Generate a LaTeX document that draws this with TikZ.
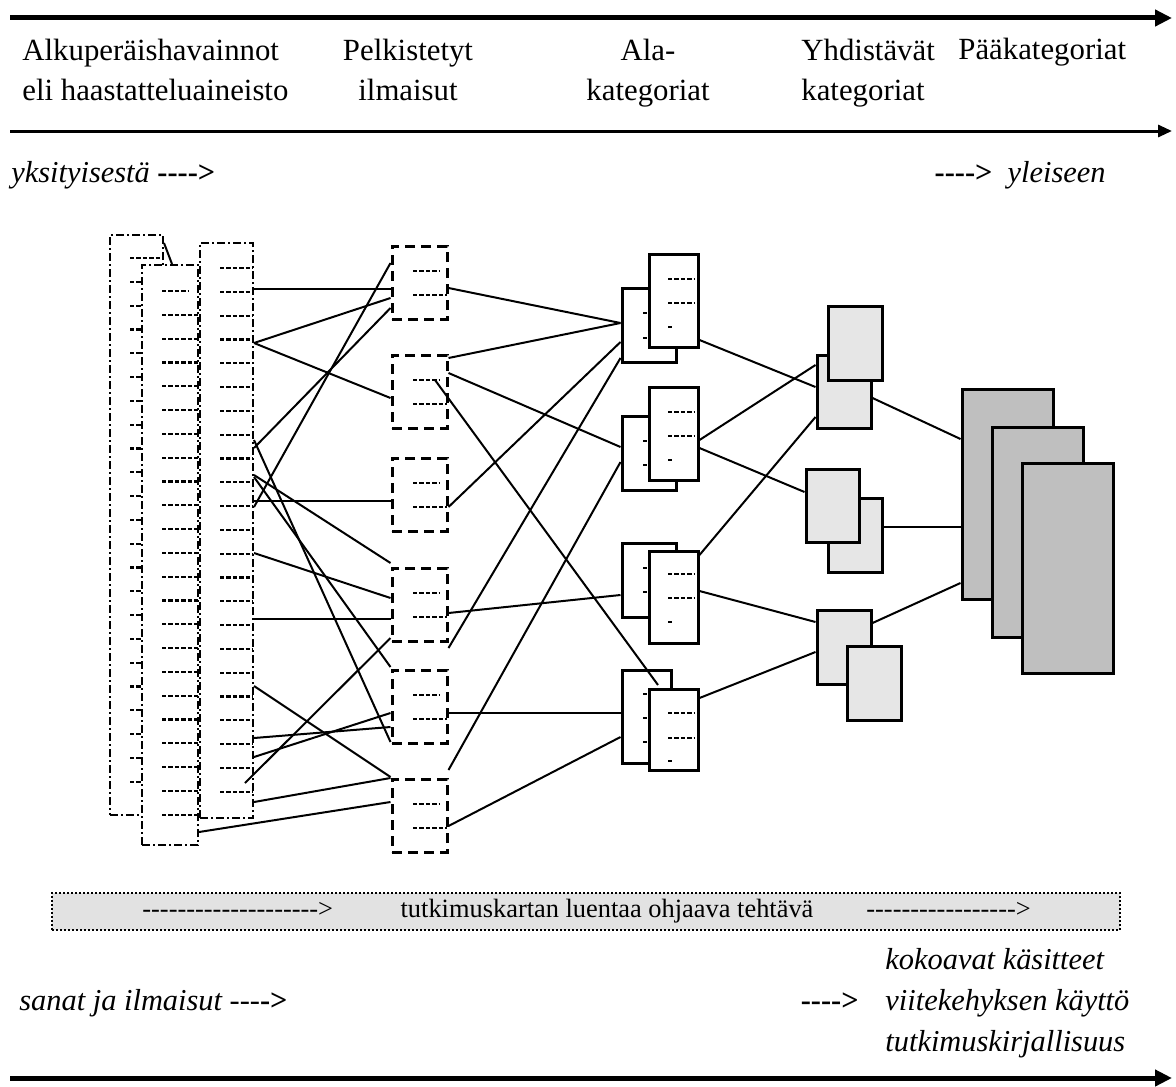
\documentclass[tikz,border=0pt]{standalone}
\usepackage{fontspec}
\setmainfont{Liberation Serif}
\usetikzlibrary{arrows.meta,positioning,calc,fit}
\definecolor{YhGrey}{RGB}{230,230,230}
\definecolor{PaaGrey}{RGB}{191,191,191}
\definecolor{Band}{RGB}{226,226,226}
\newcommand{\hy}{\hbox{-}}
\newcommand{\hyrun}[1]{\foreach \k in {1,...,#1}{\hy}}
\tikzset{
  head/.style={font=\fontsize{15.4}{20}\selectfont,inner sep=0pt},
  note/.style={font=\fontsize{15.2}{20.5}\selectfont\itshape,inner sep=0pt},
  bandtext/.style={font=\fontsize{13.2}{16}\selectfont,inner sep=0pt},
  axis/.style={-{Triangle[length=8.5pt,width=8pt]},line width=2.5pt},
  axisthin/.style={-{Triangle[length=7pt,width=6pt]},line width=1.5pt},
  colbox/.style={draw,fill=white,line width=1pt,dash pattern=on 4pt off 1.5pt on 1pt off 1.5pt,inner sep=0pt},
  row/.style={line width=1.1pt,dash pattern=on 2.2pt off 1pt},
  pkbox/.style={draw,line width=1.5pt,dash pattern=on 5pt off 3pt,inner sep=0pt},
  alabox/.style={draw,fill=white,line width=1.5pt,inner sep=0pt},
  yhbox/.style={alabox,fill=YhGrey},
  paabox/.style={alabox,fill=PaaGrey},
  conn/.style={line width=1pt},
}

\begin{document}
\begin{tikzpicture}[x=0.5pt,y=-0.5pt]
  \useasboundingbox (0,0) rectangle (1176,1086);

  % --- axes and column titles ---
  \coordinate (ax1s) at (10,18);    \coordinate (ax1e) at (1172,18);
  \coordinate (ax2s) at (10,131);   \coordinate (ax2e) at (1172,131);
  \coordinate (ax3s) at (10,1078);  \coordinate (ax3e) at (1172,1078);
  \draw[axis] (ax1s) -- (ax1e);
  \draw[axisthin] (ax2s) -- (ax2e);
  \draw[axis] (ax3s) -- (ax3e);

  % (base of a two-line node = baseline of its last line)
  \node[head, align=left, anchor=base west] (hdorig) at (22,100) {Alkuperäishavainnot\\eli haastatteluaineisto};
  \node[head, align=center, anchor=base] (hdpk) at (408,100) {Pelkistetyt\\ilmaisut};
  \node[head, align=center, anchor=base] (hdala) at (648,100) {Ala-\\kategoriat};
  \node[head, align=left, anchor=base west] (hdyh) at (801,100) {Yhdistävät\\kategoriat};
  \node[head, anchor=base west] (hdpaa) at (958,60) {Pääkategoriat};

  \node[note, anchor=base west] (from) at (11,182) {yksityisestä\ {\upshape\bfseries\hyrun{4}>}};
  \node[note, anchor=base east] (to) at (1106,182) {{\upshape\bfseries\hyrun{4}>}\ \ yleiseen};

  % --- original data: three stacked sheets ---
  \node[colbox, fit={(110,235)(163,815)}] (colA) {};
  \foreach \i in {0,...,22} \draw[row] (130,{258+23.8*\i}) -- (160,{258+23.8*\i});
  \draw[conn] (164,243) -- (172,264);
  \node[colbox, fit={(142,265)(198,845)}] (colB) {};
  \draw[row] (162,291) -- (188,291);
  \foreach \i in {1,...,22} \draw[row] (162,{291+23.8*\i}) -- (198,{291+23.8*\i});
  \node[colbox, fit={(200,243)(253,818)}] (colC) {};
  \foreach \i in {0,...,22} \draw[row] (220,{268+23.8*\i}) -- (253,{268+23.8*\i});

  % --- reduced expressions ---
  \foreach \n/\t in {1/246,2/355,3/458,4/568,5/670,6/779} {
    \node[pkbox, fit={(392,\t)(447,{\t+73})}] (pk\n) {};
    \draw[row] (413,{\t+25}) -- (439,{\t+25});
    \draw[row] (413,{\t+49}) -- (447,{\t+49});
  }

  % --- sub categories (back sheet, front sheet) ---
  \node[alabox, fit={(622,288)(676,362)}] (ala1b) {};
  \foreach \y in {313,338} \draw[row] (643,\y) -- (660,\y);
  \node[alabox, fit={(649,254)(698,347)}] (ala1f) {};
  \node[alabox, fit={(622,416)(676,490)}] (ala2b) {};
  \foreach \y in {441,465} \draw[row] (643,\y) -- (660,\y);
  \node[alabox, fit={(649,387)(698,480)}] (ala2f) {};
  \node[alabox, fit={(622,543)(676,617)}] (ala3b) {};
  \foreach \y in {568,592} \draw[row] (643,\y) -- (660,\y);
  \node[alabox, fit={(649,551)(698,643)}] (ala3f) {};
  \node[alabox, fit={(622,670)(671,763)}] (ala4b) {};
  \foreach \y in {694,718,742} \draw[row] (643,\y) -- (660,\y);
  \node[alabox, fit={(649,689)(698,770)}] (ala4f) {};
  \foreach \a/\b/\c in {279/303/327,412/436/460,574/598/622,713/738/761} {
    \draw[row] (668,\a) -- (694,\a);
    \draw[row] (668,\b) -- (694,\b);
    \draw[row] (668,\c) -- (673,\c);
  }

  % --- combining categories ---
  \node[yhbox, fit={(817,355)(871,428)}] (yh1b) {};
  \node[yhbox, fit={(828,306)(882,380)}] (yh1f) {};
  \node[yhbox, fit={(828,498)(882,572)}] (yh2b) {};
  \node[yhbox, fit={(806,469)(859,542)}] (yh2f) {};
  \node[yhbox, fit={(817,610)(871,684)}] (yh3b) {};
  \node[yhbox, fit={(847,646)(901,720)}] (yh3f) {};

  % --- main categories ---
  \node[paabox, fit={(962,389)(1053,599)}] (paa1) {};
  \node[paabox, fit={(992,427)(1083,637)}] (paa2) {};
  \node[paabox, fit={(1022,463)(1113,673)}] (paa3) {};

  % --- links: data -> expressions ---
  \coordinate (cin) at (245,783);
  \foreach \ya/\pk/\yb in {289/pk1/289, 343/pk1/298, 343/pk2/398, 507/pk1/263,
      448/pk1/308, 501/pk3/501, 440/pk5/742, 477/pk5/667, 475/pk4/563,
      553/pk4/598, 619/pk4/619, 686/pk6/777, 738/pk5/727, 757/pk5/713, 802/pk6/778}
    \draw[conn] (colC.east |- 0,\ya) -- (\pk.west |- 0,\yb);
  \draw[conn] (cin) -- (pk4.west |- 0,638);
  \draw[conn] (colB.east |- 0,832) -- (pk6.west |- 0,802);

  % --- links: expressions -> sub categories ---
  \coordinate (pkin) at (435,380);
  \coordinate (alain) at (658,685);
  \foreach \pk/\ya/\al/\yb in {pk1/288/ala1b/323, pk2/358/ala1b/323, pk2/373/ala2b/447,
      pk3/507/ala1b/342, pk4/648/ala1b/358, pk6/770/ala2b/462, pk4/613/ala3b/595,
      pk5/713/ala4b/713, pk6/826/ala4b/737}
    \draw[conn] (\pk.east |- 0,\ya) -- (\al.west |- 0,\yb);
  \draw[conn] (pkin) -- (alain);

  % --- links: sub -> combining -> main ---
  \foreach \al/\ya/\yh/\yb in {ala1f/340/yh1b/387, ala2f/440/yh1b/365, ala3f/555/yh1b/417,
      ala2f/448/yh2f/492, ala3f/591/yh3b/622, ala4f/698/yh3b/652}
    \draw[conn] (\al.east |- 0,\ya) -- (\yh.west |- 0,\yb);
  \foreach \yh/\ya/\yb in {yh1b/398/439, yh2b/527/527, yh3b/623/583}
    \draw[conn] (\yh.east |- 0,\ya) -- (paa1.west |- 0,\yb);

  % --- reading task band ---
  \node[draw, densely dotted, line width=1pt, fill=Band, inner sep=0pt, fit={(52,893)(1120,930)}] (band) {};
  \node[bandtext, anchor=base west] (bandl) at (142,917) {\hyrun{20}>};
  \node[bandtext, anchor=base] (bandc) at (607,917) {tutkimuskartan luentaa ohjaava tehtävä};
  \node[bandtext, anchor=base west] (bandr) at (866,917) {\hyrun{17}>};

  % --- bottom notes ---
  \node[note, anchor=base west] (words) at (19,1010) {sanat ja ilmaisut\ {\upshape\hyrun{3}\bfseries\hy>}};
  \node[note, anchor=base east] (toconc) at (859,1010) {{\upshape\bfseries\hyrun{4}>}};
  \node[note, align=left, anchor=base west] (concepts) at (885,1051) {kokoavat käsitteet\\viitekehyksen käyttö\\tutkimuskirjallisuus};
\end{tikzpicture}
\end{document}
